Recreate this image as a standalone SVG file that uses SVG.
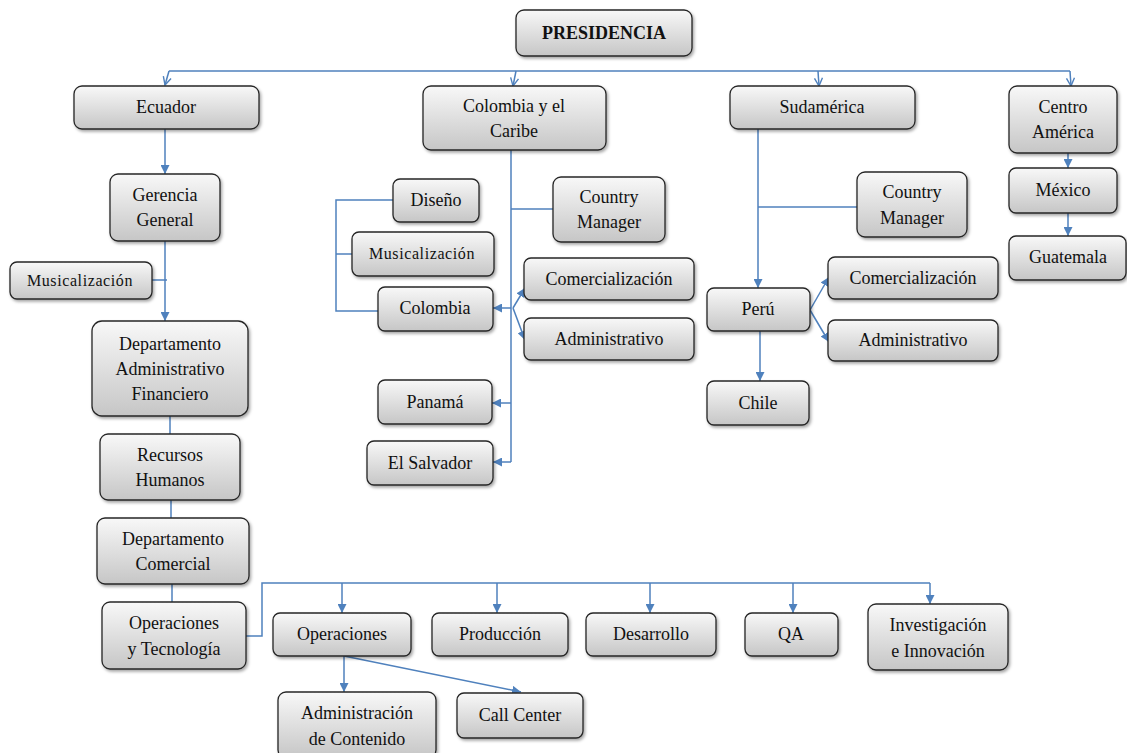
<svg xmlns="http://www.w3.org/2000/svg" width="1127" height="753" viewBox="0 0 1127 753">
<defs>
<linearGradient id="g" x1="0" y1="0" x2="0" y2="1">
<stop offset="0" stop-color="#f8f8f8"/>
<stop offset="1" stop-color="#c6c6c6"/>
</linearGradient>
<filter id="sh" x="-10%" y="-10%" width="125%" height="135%">
<feDropShadow dx="1.5" dy="2" stdDeviation="1.5" flood-color="#000" flood-opacity="0.35"/>
</filter>
<marker id="arr" markerUnits="userSpaceOnUse" markerWidth="9" markerHeight="9" viewBox="0 0 10 10" refX="10" refY="5" orient="auto">
<path d="M0,0 L10,5 L0,10 z" fill="#4f81bd"/>
</marker>
<marker id="varr" markerUnits="userSpaceOnUse" markerWidth="10" markerHeight="10" viewBox="0 0 10 10" refX="9" refY="5" orient="auto">
<path d="M1,1 L9,5 L1,9" fill="none" stroke="#4f81bd" stroke-width="1.4"/>
</marker>
<style>
.b{fill:url(#g);stroke:#262626;stroke-width:1.3;filter:url(#sh)}
.t{font-family:"Liberation Serif","Times New Roman",serif;font-size:18px;fill:#111;text-anchor:middle}
.s{font-size:16px;letter-spacing:0.6px}
.bold{font-weight:bold}
.c{fill:none;stroke:#4f81bd;stroke-width:1.5}
.a{marker-end:url(#arr)}
.v{marker-end:url(#varr)}
</style>
</defs>
<rect width="1127" height="753" fill="#fff"/>

<g id="connectors">
<path class="c" d="M1070 71 H169"/>
<path class="c v" d="M169 71 L165 85"/>
<path class="c v" d="M516 71 L513 86"/>
<path class="c v" d="M818 71 L819 86"/>
<path class="c v" d="M1070 71 L1071 86"/>
<path class="c a" d="M165 129 V174"/>
<path class="c a" d="M165 241 V321"/>
<path class="c" d="M152 280 H167"/>
<path class="c" d="M170 416 V434"/>
<path class="c" d="M171 500 V518"/>
<path class="c" d="M172 584 V602"/>
<path class="c" d="M246 636 H262 V583 H930"/>
<path class="c a" d="M342 583 V613"/>
<path class="c a" d="M497 583 V613"/>
<path class="c a" d="M650 583 V613"/>
<path class="c a" d="M793 583 V613"/>
<path class="c a" d="M930 583 V604"/>
<path class="c a" d="M344 656 V692"/>
<path class="c a" d="M344 656 L521 692"/>
<path class="c" d="M511 150 V462"/>
<path class="c" d="M511 209 H553"/>
<path class="c a" d="M511 308 H493"/>
<path class="c a" d="M513 308 L525 288"/>
<path class="c a" d="M513 308 L525 340"/>
<path class="c a" d="M511 403 H492"/>
<path class="c a" d="M511 462 H493"/>
<path class="c" d="M393 200 H336 V311 H378"/>
<path class="c" d="M336 254 H352"/>
<path class="c a" d="M758 129 V288"/>
<path class="c" d="M758 207 H857"/>
<path class="c a" d="M810 310 L829 277"/>
<path class="c a" d="M810 310 L829 342"/>
<path class="c a" d="M760 331 V381"/>
<path class="c a" d="M1068 153 V168"/>
<path class="c a" d="M1068 213 V236"/>
</g>

<g id="presidencia"><rect class="b" x="516" y="10" width="176" height="46" rx="8"/><text class="t bold" x="604" y="39">PRESIDENCIA</text></g>
<g id="ecuador"><rect class="b" x="74" y="86" width="185" height="43" rx="8"/><text class="t" x="166" y="113">Ecuador</text></g>
<g id="colombia-caribe"><rect class="b" x="423" y="86" width="183" height="64" rx="8"/><text class="t" x="514" y="112">Colombia y el</text><text class="t" x="514" y="137">Caribe</text></g>
<g id="sudamerica"><rect class="b" x="730" y="86" width="185" height="43" rx="8"/><text class="t" x="822" y="113">Sudamérica</text></g>
<g id="centro-america"><rect class="b" x="1009" y="86" width="108" height="67" rx="8"/><text class="t" x="1063" y="113">Centro</text><text class="t" x="1063" y="138">América</text></g>

<g id="gerencia"><rect class="b" x="110" y="174" width="110" height="67" rx="8"/><text class="t" x="165" y="201">Gerencia</text><text class="t" x="165" y="226">General</text></g>
<g id="musicalizacion-ec"><rect class="b" x="10" y="262" width="142" height="37" rx="7"/><text class="t s" x="80" y="286">Musicalización</text></g>
<g id="daf"><rect class="b" x="92" y="321" width="156" height="95" rx="10"/><text class="t" x="170" y="350">Departamento</text><text class="t" x="170" y="375">Administrativo</text><text class="t" x="170" y="400">Financiero</text></g>
<g id="rrhh"><rect class="b" x="100" y="434" width="140" height="66" rx="8"/><text class="t" x="170" y="461">Recursos</text><text class="t" x="170" y="486">Humanos</text></g>
<g id="dcom"><rect class="b" x="97" y="518" width="152" height="66" rx="8"/><text class="t" x="173" y="545">Departamento</text><text class="t" x="173" y="570">Comercial</text></g>
<g id="oyt"><rect class="b" x="102" y="602" width="144" height="67" rx="8"/><text class="t" x="174" y="629">Operaciones</text><text class="t" x="174" y="655">y Tecnología</text></g>

<g id="operaciones"><rect class="b" x="273" y="613" width="138" height="43" rx="7"/><text class="t" x="342" y="640">Operaciones</text></g>
<g id="produccion"><rect class="b" x="432" y="613" width="136" height="43" rx="7"/><text class="t" x="500" y="640">Producción</text></g>
<g id="desarrollo"><rect class="b" x="586" y="613" width="130" height="43" rx="7"/><text class="t" x="651" y="640">Desarrollo</text></g>
<g id="qa"><rect class="b" x="745" y="613" width="93" height="43" rx="7"/><text class="t" x="791" y="640">QA</text></g>
<g id="investigacion"><rect class="b" x="868" y="604" width="140" height="66" rx="8"/><text class="t" x="938" y="631">Investigación</text><text class="t" x="938" y="657">e Innovación</text></g>
<g id="admin-contenido"><rect class="b" x="278" y="692" width="158" height="66" rx="8"/><text class="t" x="357" y="719">Administración</text><text class="t" x="357" y="745">de Contenido</text></g>
<g id="call-center"><rect class="b" x="457" y="693" width="126" height="45" rx="7"/><text class="t" x="520" y="721">Call Center</text></g>

<g id="diseno"><rect class="b" x="393" y="179" width="86" height="43" rx="7"/><text class="t" x="436" y="206">Diseño</text></g>
<g id="musicalizacion-co"><rect class="b" x="352" y="232" width="142" height="44" rx="7"/><text class="t s" x="422" y="259">Musicalización</text></g>
<g id="colombia"><rect class="b" x="378" y="287" width="115" height="44" rx="7"/><text class="t" x="435" y="314">Colombia</text></g>
<g id="cm-colombia"><rect class="b" x="553" y="177" width="112" height="65" rx="8"/><text class="t" x="609" y="203">Country</text><text class="t" x="609" y="228">Manager</text></g>
<g id="comercializacion-co"><rect class="b" x="524" y="258" width="170" height="42" rx="7"/><text class="t" x="609" y="285">Comercialización</text></g>
<g id="administrativo-co"><rect class="b" x="524" y="318" width="170" height="42" rx="7"/><text class="t" x="609" y="345">Administrativo</text></g>
<g id="panama"><rect class="b" x="378" y="380" width="114" height="44" rx="7"/><text class="t" x="435" y="408">Panamá</text></g>
<g id="el-salvador"><rect class="b" x="367" y="441" width="126" height="44" rx="7"/><text class="t" x="430" y="469">El Salvador</text></g>

<g id="cm-sudamerica"><rect class="b" x="857" y="172" width="110" height="65" rx="8"/><text class="t" x="912" y="198">Country</text><text class="t" x="912" y="224">Manager</text></g>
<g id="peru"><rect class="b" x="707" y="288" width="103" height="43" rx="7"/><text class="t" x="758" y="315">Perú</text></g>
<g id="comercializacion-su"><rect class="b" x="828" y="257" width="170" height="42" rx="7"/><text class="t" x="913" y="284">Comercialización</text></g>
<g id="administrativo-su"><rect class="b" x="828" y="320" width="170" height="41" rx="7"/><text class="t" x="913" y="346">Administrativo</text></g>
<g id="chile"><rect class="b" x="707" y="381" width="102" height="44" rx="7"/><text class="t" x="758" y="409">Chile</text></g>

<g id="mexico"><rect class="b" x="1009" y="168" width="108" height="45" rx="7"/><text class="t" x="1063" y="196">México</text></g>
<g id="guatemala"><rect class="b" x="1009" y="236" width="117" height="44" rx="7"/><text class="t" x="1068" y="263">Guatemala</text></g>
</svg>
